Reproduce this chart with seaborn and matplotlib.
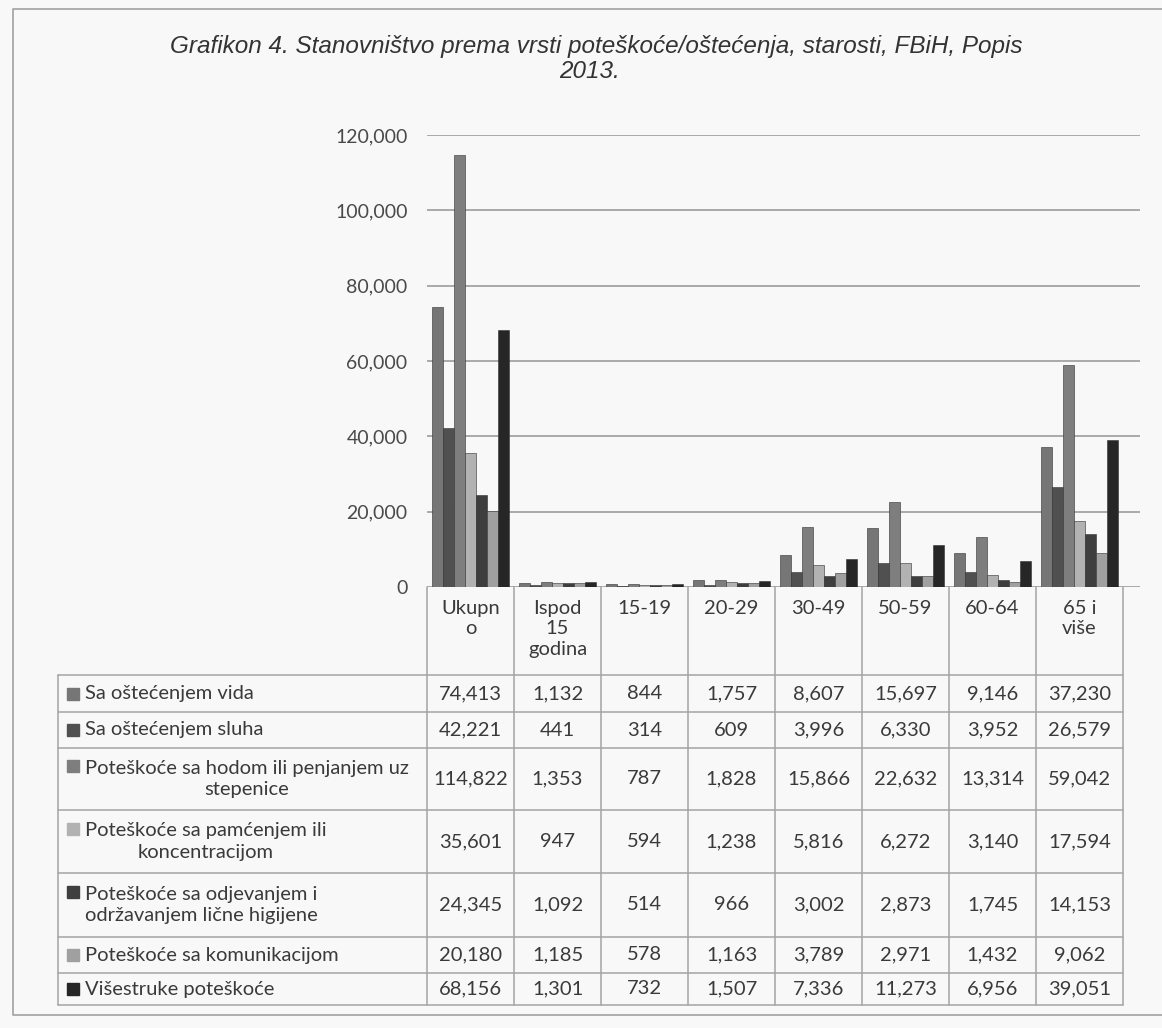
import pandas as pd
import matplotlib
matplotlib.use('Agg')
import matplotlib.pyplot as plt
import seaborn as sns

# kategorije starosti (zaglavlje tabele)
kategorije = ['Ukupn\no', 'Ispod\n15\ngodina', '15-19', '20-29', '30-49', '50-59', '60-64', '65 i\nviše']

# vrste poteškoća / oštećenja
serije = ['Sa oštećenjem vida',
          'Sa oštećenjem sluha',
          'Poteškoće sa hodom ili penjanjem uz\nstepenice',
          'Poteškoće sa pamćenjem ili\nkoncentracijom',
          'Poteškoće sa odjevanjem i\nodržavanjem lične higijene',
          'Poteškoće sa komunikacijom',
          'Višestruke poteškoće']

vida = [74413, 1132, 844, 1757, 8607, 15697, 9146, 37230]
sluha = [42221, 441, 314, 609, 3996, 6330, 3952, 26579]
hod = [114822, 1353, 787, 1828, 15866, 22632, 13314, 59042]
pamcenje = [35601, 947, 594, 1238, 5816, 6272, 3140, 17594]
odijevanje = [24345, 1092, 514, 966, 3002, 2873, 1745, 14153]
komunikacija = [20180, 1185, 578, 1163, 3789, 2971, 1432, 9062]
visestruke = [68156, 1301, 732, 1507, 7336, 11273, 6956, 39051]

vrijednosti = [vida, sluha, hod, pamcenje, odijevanje, komunikacija, visestruke]
boje = ['#767676', '#505050', '#7e7e7e', '#b2b2b2', '#3e3e3e', '#a0a0a0', '#262626']

yticks = [0, 20000, 40000, 60000, 80000, 100000, 120000]

# long format za seaborn
rows = []
for s, vals in zip(serije, vrijednosti):
    for k, v in zip(kategorije, vals):
        rows.append({'kategorija': k, 'serija': s, 'broj': v})
df = pd.DataFrame(rows)

sns.set_theme(style='white')
plt.rcParams['font.family'] = ['Lato', 'DejaVu Sans']

W, H = 1162, 1028
bg = '#f9f8f8'
txt = '#3a3a3a'
fs = 14.5
fig = plt.figure(figsize=(W / 100, H / 100), dpi=100, facecolor=bg)

# pozicije u pikselima
x0, x1 = 427, 1140      # lijevo / desno od grafikona
y_top, y_bot = 135, 587  # 120,000 i 0
col_w = 87

ax = fig.add_axes([x0 / W, 1 - y_bot / H, (x1 - x0) / W, (y_bot - y_top) / H])
ax.set_facecolor('none')
sns.barplot(data=df, x='kategorija', y='broj', hue='serija', order=kategorije,
            hue_order=serije, palette=boje, width=0.88, saturation=1,
            edgecolor='#303030', linewidth=0.4, ax=ax, legend=False)
ax.set_xlim(-0.5, -0.5 + (x1 - x0) / col_w)
ax.set_ylim(0, 120000)
ax.set_yticks(yticks)
ax.set_yticklabels([f'{t:,}' for t in yticks], color='#4a4a4a', fontsize=14)
ax.tick_params(axis='y', length=0, pad=14)
ax.set_xticks([])
ax.set_xlabel('')
ax.set_ylabel('')
ax.grid(axis='y', color='#9c9c9c', linewidth=1.2)
ax.set_axisbelow(True)
for sp in ax.spines.values():
    sp.set_visible(False)

# sloj za tabelu i naslov (pikseli)
ov = fig.add_axes([0, 0, 1, 1], facecolor='none')
ov.set_xlim(0, W)
ov.set_ylim(H, 0)
ov.axis('off')
ov.set_zorder(-1)

# okvir
ov.plot([W + 5, 13, 13, W + 5], [9, 9, 1015, 1015], color='#a8a8a8', lw=1.3)

ov.text(596, 47, 'Grafikon 4. Stanovništvo prema vrsti poteškoće/oštećenja, starosti, FBiH, Popis',
        ha='center', va='center', fontsize=17.5, style='italic', color='#333333',
        family='Liberation Sans')
ov.text(590, 72, '2013.', ha='center', va='center', fontsize=17.5, style='italic',
        color='#333333', family='Liberation Sans')

# tabela
row_edges = [675, 712, 748, 810, 873, 937, 973, 1005]
t_left = 58
c_edges = [x0 + i * col_w for i in range(len(kategorije) + 1)]
lc = '#a4a4a4'
for y in row_edges:
    ov.plot([t_left, c_edges[-1]], [y, y], color=lc, lw=1.1)
ov.plot([t_left, t_left], [row_edges[0], row_edges[-1]], color=lc, lw=1.1)
for x in c_edges:
    ov.plot([x, x], [y_bot, row_edges[-1]], color=lc, lw=1.1)

for i, k in enumerate(kategorije):
    cx = (c_edges[i] + c_edges[i + 1]) / 2
    ov.text(cx, 600, k, ha='center', va='top', fontsize=fs, color=txt,
            linespacing=1.24)

for j, (s, vals, c) in enumerate(zip(serije, vrijednosti, boje)):
    ya, yb = row_edges[j], row_edges[j + 1]
    n_lines = s.count('\n') + 1
    first_line_y = (ya + yb) / 2 - (n_lines - 1) * 13
    ov.add_patch(plt.Rectangle((67, first_line_y - 6), 12, 12, color=c))
    ov.text(85, (ya + yb) / 2, s, ha='left', va='center', multialignment='center',
            fontsize=fs, color=txt, linespacing=1.3)
    for i, v in enumerate(vals):
        cx = (c_edges[i] + c_edges[i + 1]) / 2
        ov.text(cx, (ya + yb) / 2, f'{v:,}', ha='center', va='center',
                fontsize=fs, color=txt)

plt.savefig('out.png', dpi=100, facecolor=bg)
